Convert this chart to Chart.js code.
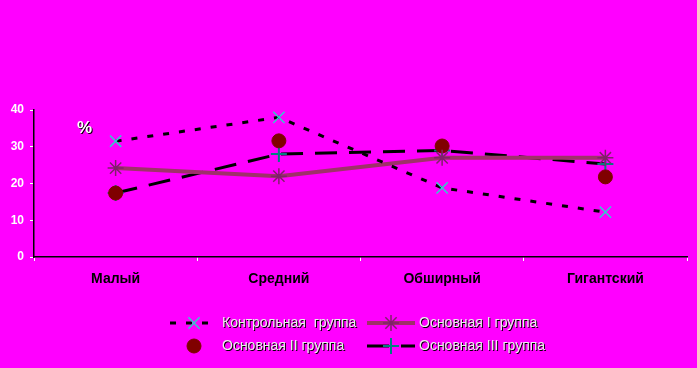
<!DOCTYPE html>
<html>
<head>
<meta charset="utf-8">
<script src="https://cdn.jsdelivr.net/npm/chart.js@4"></script>
<style>
  html, body { margin: 0; padding: 0; background: #ff00ff; }
  #wrap { width: 697px; height: 368px; }
</style>
</head>
<body>
<div id="wrap"><canvas id="chart" width="697" height="368"></canvas></div>
<script>
// Data
const categories = ['Малый', 'Средний', 'Обширный', 'Гигантский'];
const yTicks = [0, 10, 20, 30, 40];
const control = [31.5, 38, 18.8, 12.2];
const mainI = [24.2, 22, 27, 27];
const mainII = [17.4, 31.6, 30.2, 21.8];
const mainIII = [17.4, 28, 29, 25.3];

// Draws "%" label and the two-row legend from dataset styles
const extras = {
    id: 'extras',
    afterDraw(chart) {
        const ctx = chart.ctx;
        ctx.save();
        ctx.font = 'bold 17px "Liberation Sans", Arial, sans-serif';
        ctx.textBaseline = 'middle';
        ctx.fillStyle = '#000';
        ctx.fillText('%', 78, 129);
        ctx.fillStyle = '#fff';
        ctx.fillText('%', 77, 128);

        const rows = [
            { ds: 0, x: 170, y: 323 },
            { ds: 1, x: 367, y: 323 },
            { ds: 2, x: 170, y: 346 },
            { ds: 3, x: 367, y: 346 }
        ];
        ctx.font = '14px "Liberation Sans", Arial, sans-serif';
        rows.forEach(r => {
            const d = chart.data.datasets[r.ds];
            const w = 48;
            if (d.showLine !== false) {
                ctx.strokeStyle = d.borderColor;
                ctx.lineWidth = d.borderWidth;
                ctx.setLineDash(d.borderDash || []);
                ctx.beginPath();
                ctx.moveTo(r.x, r.y);
                ctx.lineTo(r.x + w, r.y);
                ctx.stroke();
                ctx.setLineDash([]);
            }
            ctx.fillStyle = d.pointBackgroundColor;
            ctx.strokeStyle = d.pointBorderColor;
            ctx.lineWidth = d.pointBorderWidth;
            Chart.helpers.drawPoint(ctx, {
                pointStyle: d.pointStyle,
                radius: d.pointRadius,
                borderWidth: d.pointBorderWidth
            }, r.x + 24, r.y);
            ctx.fillStyle = '#000';
            ctx.fillText(d.label, r.x + 53, r.y + 1);
            ctx.fillStyle = '#eee';
            ctx.fillText(d.label, r.x + 52, r.y);
        });
        ctx.restore();
    }
};

new Chart(document.getElementById('chart').getContext('2d'), {
    type: 'line',
    data: {
        labels: categories,
        datasets: [
            {
                label: 'Контрольная  группа',
                data: control,
                borderColor: '#000',
                borderWidth: 3,
                borderDash: [6, 10],
                pointStyle: 'crossRot',
                pointRadius: 8,
                pointBorderWidth: 1.5,
                pointBorderColor: '#33cccc',
                pointBackgroundColor: '#33cccc'
            },
            {
                label: 'Основная I группа',
                data: mainI,
                borderColor: '#a0306a',
                borderWidth: 4,
                pointStyle: 'star',
                pointRadius: 8,
                pointBorderWidth: 1.5,
                pointBorderColor: '#80206a',
                pointBackgroundColor: '#80206a'
            },
            {
                label: 'Основная II группа',
                data: mainII,
                showLine: false,
                borderColor: '#800000',
                pointStyle: 'circle',
                pointRadius: 7,
                pointBorderWidth: 1,
                pointBorderColor: '#800000',
                pointBackgroundColor: '#800000'
            },
            {
                label: 'Основная III группа',
                data: mainIII,
                borderColor: '#000',
                borderWidth: 3,
                borderDash: [22, 12],
                pointStyle: 'cross',
                pointRadius: 8,
                pointBorderWidth: 2,
                pointBorderColor: '#008080',
                pointBackgroundColor: '#008080'
            }
        ]
    },
    options: {
        responsive: false,
        animation: false,
        layout: { padding: { top: 110, right: 7, left: 0, bottom: 0 } },
        plugins: {
            legend: { display: false },
            tooltip: { enabled: false }
        },
        scales: {
            x: {
                offset: true,
                border: { color: '#000', width: 1.5 },
                grid: { offset: true, drawOnChartArea: false, drawTicks: true, tickLength: 4, color: '#fff' },
                ticks: {
                    color: '#000',
                    padding: 10,
                    font: { family: '"Liberation Sans", Arial, sans-serif', size: 14, weight: 'bold' }
                },
                afterFit: s => { s.height = 111; }
            },
            y: {
                min: 0,
                max: 40,
                afterBuildTicks: s => { s.ticks = yTicks.map(v => ({ value: v })); },
                border: { color: '#000', width: 1.5 },
                grid: { drawOnChartArea: false, drawTicks: true, tickLength: 4, color: '#fff' },
                ticks: {
                    color: '#fff',
                    padding: 6,
                    font: { family: '"Liberation Sans", Arial, sans-serif', size: 12, weight: 'bold' }
                },
                afterFit: s => { s.width = 34; }
            }
        }
    },
    plugins: [extras]
});
</script>
</body>
</html>
